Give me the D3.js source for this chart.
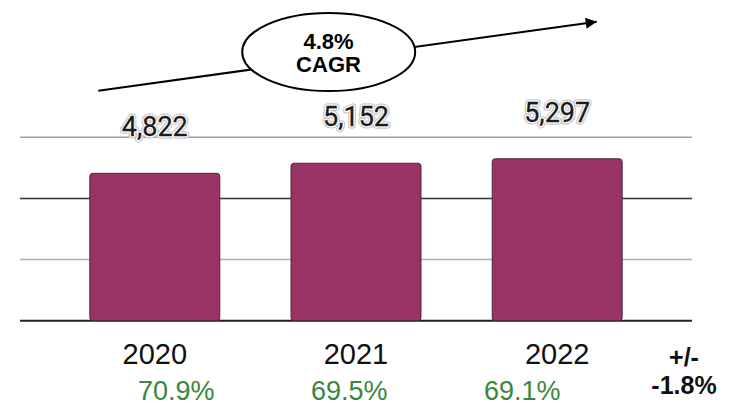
<!DOCTYPE html>
<html>
<head>
<meta charset="utf-8">
<script src="https://cdn.jsdelivr.net/npm/d3@7"></script>
<style>
  html, body { margin: 0; padding: 0; background: #fff; }
  svg { display: block; }
</style>
</head>
<body>
<svg id="chart" width="732" height="406"></svg>
<script>
const years = ["2020", "2021", "2022"];
const values = [4822, 5152, 5297];
const shares = ["70.9%", "69.5%", "69.1%"];
const gridTicks = [0, 2000, 4000, 6000];
const changeLabel = ["+/-", "-1.8%"];
const cagrLabel = ["4.8%", "CAGR"];

const svg = d3.select("#chart");

const x = d3.scaleBand().domain(years).range([20, 692]).paddingInner(0.354).paddingOuter(0.347);
const y = d3.scaleLinear().domain([0, 6000]).range([320.7, 137.3]);
const xShare = d3.scalePoint().domain(years).range([176.3, 522.3]);

// gridlines
const gridColors = ["#222", "#b0b0b0", "#333", "#a0a0a0"];
svg.append("g").selectAll("line").data(gridTicks).join("line")
  .attr("x1", 20).attr("x2", 692)
  .attr("y1", d => y(d)).attr("y2", d => y(d))
  .attr("stroke", (d, i) => gridColors[i])
  .attr("stroke-width", (d, i) => i === 0 ? 2 : 1.5);

// bars
svg.append("g").selectAll("rect").data(values).join("rect")
  .attr("x", (d, i) => x(years[i]))
  .attr("y", d => y(d))
  .attr("width", x.bandwidth())
  .attr("height", d => y(0) - y(d))
  .attr("rx", 3)
  .attr("fill", "#993366")
  .attr("stroke", "#4a2a38")
  .attr("stroke-width", 1);

// value labels with halo
const fmt = d3.format(",");
const vl = svg.append("g").attr("font-family", "Roboto, sans-serif").attr("font-size", 27)
  .attr("text-anchor", "middle");
vl.selectAll("text.halo2").data(values).join("text").attr("class", "halo2")
  .attr("x", (d, i) => x(years[i]) + x.bandwidth() / 2)
  .attr("y", d => y(d) - 37)
  .attr("fill", "none").attr("stroke", "#bdbdbd").attr("stroke-width", 5).attr("stroke-linejoin", "round")
  .text(d => fmt(d));
vl.selectAll("text.halo").data(values).join("text").attr("class", "halo")
  .attr("x", (d, i) => x(years[i]) + x.bandwidth() / 2)
  .attr("y", d => y(d) - 37)
  .attr("fill", "none").attr("stroke", "#fff").attr("stroke-width", 3).attr("stroke-linejoin", "round")
  .text(d => fmt(d));
vl.selectAll("text.val").data(values).join("text").attr("class", "val")
  .attr("x", (d, i) => x(years[i]) + x.bandwidth() / 2)
  .attr("y", d => y(d) - 37)
  .attr("fill", "#1c1c1c")
  .attr("stroke", "#1c1c1c").attr("stroke-width", 0.3)
  .text(d => fmt(d));

// year labels
svg.append("g").selectAll("text").data(years).join("text")
  .attr("x", d => x(d) + x.bandwidth() / 2)
  .attr("y", 364)
  .attr("text-anchor", "middle")
  .attr("font-family", "'Liberation Sans', Arial, sans-serif")
  .attr("font-size", 29)
  .attr("fill", "#111")
  .text(d => d);

// share labels
svg.append("g").selectAll("text").data(shares).join("text")
  .attr("x", (d, i) => xShare(years[i]))
  .attr("y", 400)
  .attr("text-anchor", "middle")
  .attr("font-family", "'Liberation Sans', Arial, sans-serif")
  .attr("font-size", 27)
  .attr("fill", "#3a873d")
  .text(d => d);

// change label
svg.append("g").selectAll("text").data(changeLabel).join("text")
  .attr("x", 684)
  .attr("y", (d, i) => i === 0 ? 366 : 393.5)
  .attr("text-anchor", "middle")
  .attr("font-family", "'Liberation Sans', Arial, sans-serif")
  .attr("font-weight", "bold")
  .attr("font-size", 25)
  .attr("fill", "#111")
  .text(d => d);

// CAGR arrow
const defs = svg.append("defs");
defs.append("marker")
  .attr("id", "arrow")
  .attr("viewBox", "0 0 10 10")
  .attr("refX", 10).attr("refY", 5)
  .attr("markerWidth", 7).attr("markerHeight", 5.5)
  .attr("markerUnits", "strokeWidth")
  .attr("orient", "auto")
  .append("path").attr("d", "M0,0 L10,5 L0,10 Z").attr("fill", "#000");

svg.append("line")
  .attr("x1", 98.3).attr("y1", 90.7)
  .attr("x2", 596.7).attr("y2", 21.7)
  .attr("stroke", "#000").attr("stroke-width", 2)
  .attr("marker-end", "url(#arrow)");

svg.append("ellipse")
  .attr("cx", 328.7).attr("cy", 52)
  .attr("rx", 86.5).attr("ry", 39)
  .attr("fill", "#fff").attr("stroke", "#000").attr("stroke-width", 2);

svg.append("g").selectAll("text").data(cagrLabel).join("text")
  .attr("x", 328.5)
  .attr("y", (d, i) => i === 0 ? 48.5 : 72)
  .attr("text-anchor", "middle")
  .attr("font-family", "'Liberation Sans', Arial, sans-serif")
  .attr("font-weight", "bold")
  .attr("font-size", 22)
  .attr("fill", "#000")
  .text(d => d);
</script>
</body>
</html>
